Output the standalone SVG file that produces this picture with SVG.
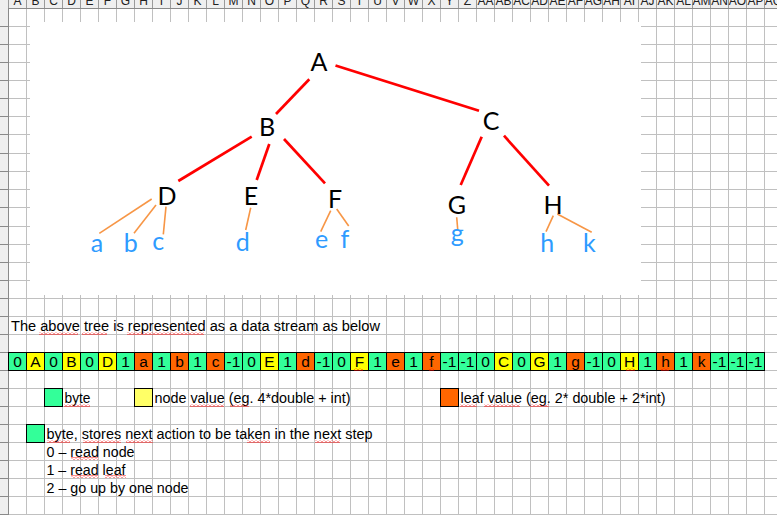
<svg xmlns="http://www.w3.org/2000/svg" width="777" height="515" viewBox="0 0 777 515">
<style>
.hdr{font-family:"Liberation Sans",Arial,sans-serif;font-size:12px;fill:#222;text-anchor:middle}
.cell{font-family:"Liberation Sans",Arial,sans-serif;font-size:15.5px;fill:#000;text-anchor:middle}
.txt{font-family:"Liberation Sans",Arial,sans-serif;font-size:14.7px;fill:#000}
.nd{font-family:Lato,"Open Sans",sans-serif;font-size:25px;fill:#000;text-anchor:middle}
.lf{font-family:Lato,"Open Sans",sans-serif;font-size:25px;fill:#2E9BFF;text-anchor:middle}
.red{stroke:#FF0000;stroke-width:2.7;fill:none}
.org{stroke:#F79646;stroke-width:1.6;fill:none}
.g{fill:#33FF99;stroke:#000;stroke-width:1}
.y{fill:#FFFF00;stroke:#000;stroke-width:1}
.o{fill:#FF6600;stroke:#000;stroke-width:1}
.hl{stroke:#C0C0C0;stroke-width:1;fill:none}
.wv{fill:url(#wave)}
</style>
<defs>
<pattern id="vgrid" x="26" y="0" width="18" height="18" patternUnits="userSpaceOnUse">
<rect x="0" y="0" width="1" height="18" fill="#C0C0C0"/>
</pattern>
<pattern id="wave" x="0" y="0" width="4" height="3" patternUnits="userSpaceOnUse">
<path d="M0 2.5L2 0.5L4 2.5" stroke="#FF0000" stroke-width="0.9" fill="none"/>
</pattern>
</defs>
<rect width="777" height="515" fill="#FFFFFF"/>
<!-- grid -->
<g id="grid">
<rect x="26" y="8" width="751" height="507" fill="url(#vgrid)"/>
<path class="hl" d="M8 26.5H777M8 44.5H777M8 62.5H777M8 80.5H777M8 98.5H777M8 116.5H777M8 134.5H777M8 153.5H777M8 171.5H777M8 189.5H777M8 207.5H777M8 226.5H777M8 244.5H777M8 262.5H777M8 280.5H777M8 298.5H777M8 316.5H777M8 334.5H777M8 352.5H777M8 370.5H777M8 388.5H777M8 406.5H777M8 424.5H777M8 442.5H777M8 460.5H777M8 478.5H777M8 496.5H777M8 514.5H777"/>
</g>
<!-- headers -->
<g id="colheader">
<rect x="0" y="0" width="777" height="8" fill="#EFEFEF"/>
<path d="M0 8.5H777" stroke="#8A8A8A" stroke-width="1"/>
<path d="M8.5 0V8M26.5 0V8M44.5 0V8M62.5 0V8M80.5 0V8M98.5 0V8M116.5 0V8M134.5 0V8M152.5 0V8M170.5 0V8M188.5 0V8M206.5 0V8M224.5 0V8M242.5 0V8M260.5 0V8M278.5 0V8M296.5 0V8M314.5 0V8M332.5 0V8M350.5 0V8M368.5 0V8M386.5 0V8M404.5 0V8M422.5 0V8M440.5 0V8M458.5 0V8M476.5 0V8M494.5 0V8M512.5 0V8M530.5 0V8M548.5 0V8M566.5 0V8M584.5 0V8M602.5 0V8M620.5 0V8M638.5 0V8M656.5 0V8M674.5 0V8M692.5 0V8M710.5 0V8M728.5 0V8M746.5 0V8M764.5 0V8" stroke="#9A9A9A" stroke-width="1"/>
<text class="hdr" y="4.6"><tspan x="17.5">A</tspan><tspan x="35.5">B</tspan><tspan x="53.5">C</tspan><tspan x="71.5">D</tspan><tspan x="89.5">E</tspan><tspan x="107.5">F</tspan><tspan x="125.5">G</tspan><tspan x="143.5">H</tspan><tspan x="161.5">I</tspan><tspan x="179.5">J</tspan><tspan x="197.5">K</tspan><tspan x="215.5">L</tspan><tspan x="233.5">M</tspan><tspan x="251.5">N</tspan><tspan x="269.5">O</tspan><tspan x="287.5">P</tspan><tspan x="305.5">Q</tspan><tspan x="323.5">R</tspan><tspan x="341.5">S</tspan><tspan x="359.5">T</tspan><tspan x="377.5">U</tspan><tspan x="395.5">V</tspan><tspan x="413.5">W</tspan><tspan x="431.5">X</tspan><tspan x="449.5">Y</tspan><tspan x="467.5">Z</tspan><tspan x="485.5">AA</tspan><tspan x="503.5">AB</tspan><tspan x="521.5">AC</tspan><tspan x="539.5">AD</tspan><tspan x="557.5">AE</tspan><tspan x="575.5">AF</tspan><tspan x="593.5">AG</tspan><tspan x="611.5">AH</tspan><tspan x="629.5">AI</tspan><tspan x="647.5">AJ</tspan><tspan x="665.5">AK</tspan><tspan x="683.5">AL</tspan><tspan x="701.5">AM</tspan><tspan x="719.5">AN</tspan><tspan x="737.5">AO</tspan><tspan x="755.5">AP</tspan><tspan x="773.5">AQ</tspan></text>
</g>
<g id="rowheader">
<rect x="0" y="8" width="8.5" height="507" fill="#EFEFEF"/>
<path d="M8.5 8V515" stroke="#8A8A8A" stroke-width="1"/>
<path d="M0 26.5H8M0 44.5H8M0 62.5H8M0 80.5H8M0 98.5H8M0 116.5H8M0 134.5H8M0 153.5H8M0 171.5H8M0 189.5H8M0 207.5H8M0 226.5H8M0 244.5H8M0 262.5H8M0 280.5H8M0 298.5H8M0 316.5H8M0 334.5H8M0 352.5H8M0 370.5H8M0 388.5H8M0 406.5H8M0 424.5H8M0 442.5H8M0 460.5H8M0 478.5H8M0 496.5H8M0 514.5H8" stroke="#8A8A8A" stroke-width="1"/>
</g>
<!-- tree picture -->
<rect id="picture" x="30" y="22" width="611" height="273" fill="#FFFFFF"/>
<g id="connectors">
<path class="red" d="M309.3 79.3L276 114"/>
<path class="red" d="M335.5 65.5L479 110.7"/>
<path class="red" d="M251.7 136.7L178.3 181"/>
<path class="red" d="M269.3 144L256.7 180"/>
<path class="red" d="M284 139L325 183.3"/>
<path class="red" d="M481.7 136.7L460.7 185"/>
<path class="red" d="M504 135.7L549 185.7"/>
<path class="org" d="M151.7 199L99.3 233.3"/>
<path class="org" d="M156 205L134 233.3"/>
<path class="org" d="M166 206.7L163.3 234.3"/>
<path class="org" d="M250.7 207.7L245.7 230"/>
<path class="org" d="M330.7 210.7L320.7 231.7"/>
<path class="org" d="M336.7 209L348.7 226"/>
<path class="org" d="M456.7 217.3L457.7 229.3"/>
<path class="org" d="M553.3 215.7L546 231.7"/>
<path class="org" d="M557.3 214L591.7 232.3"/>
</g>
<g id="node-A"><text class="nd" x="319" y="70.7">A</text></g>
<g id="node-B"><text class="nd" x="267" y="136">B</text></g>
<g id="node-C"><text class="nd" x="491" y="130">C</text></g>
<g id="node-D"><text class="nd" x="167" y="205">D</text></g>
<g id="node-E"><text class="nd" x="251" y="205">E</text></g>
<g id="node-F"><text class="nd" x="335" y="208.3">F</text></g>
<g id="node-G"><text class="nd" x="457" y="214">G</text></g>
<g id="node-H"><text class="nd" x="553" y="214">H</text></g>
<g id="leaf-a"><text class="lf" x="97" y="252.3">a</text></g>
<g id="leaf-b"><text class="lf" x="130.7" y="252">b</text></g>
<g id="leaf-c"><text class="lf" x="158.3" y="250">c</text></g>
<g id="leaf-d"><text class="lf" x="242.7" y="250.7">d</text></g>
<g id="leaf-e"><text class="lf" x="321.7" y="248">e</text></g>
<g id="leaf-f"><text class="lf" x="345" y="248">f</text></g>
<g id="leaf-g"><text class="lf" x="457.3" y="241.7">g</text></g>
<g id="leaf-h"><text class="lf" x="547.3" y="252.3">h</text></g>
<g id="leaf-k"><text class="lf" x="589.3" y="252.3">k</text></g>
<!-- sentence -->
<text class="txt" x="11" y="331" textLength="369" lengthAdjust="spacingAndGlyphs">The above tree is represented as a data stream as below</text>
<!-- data stream -->
<g id="stream">
<rect class="g" x="8.5" y="352.5" width="18" height="18"/>
<rect class="y" x="26.5" y="352.5" width="18" height="18"/>
<rect class="g" x="44.5" y="352.5" width="18" height="18"/>
<rect class="y" x="62.5" y="352.5" width="18" height="18"/>
<rect class="g" x="80.5" y="352.5" width="18" height="18"/>
<rect class="y" x="98.5" y="352.5" width="18" height="18"/>
<rect class="g" x="116.5" y="352.5" width="18" height="18"/>
<rect class="o" x="134.5" y="352.5" width="18" height="18"/>
<rect class="g" x="152.5" y="352.5" width="18" height="18"/>
<rect class="o" x="170.5" y="352.5" width="18" height="18"/>
<rect class="g" x="188.5" y="352.5" width="18" height="18"/>
<rect class="o" x="206.5" y="352.5" width="18" height="18"/>
<rect class="g" x="224.5" y="352.5" width="18" height="18"/>
<rect class="g" x="242.5" y="352.5" width="18" height="18"/>
<rect class="y" x="260.5" y="352.5" width="18" height="18"/>
<rect class="g" x="278.5" y="352.5" width="18" height="18"/>
<rect class="o" x="296.5" y="352.5" width="18" height="18"/>
<rect class="g" x="314.5" y="352.5" width="18" height="18"/>
<rect class="g" x="332.5" y="352.5" width="18" height="18"/>
<rect class="y" x="350.5" y="352.5" width="18" height="18"/>
<rect class="g" x="368.5" y="352.5" width="18" height="18"/>
<rect class="o" x="386.5" y="352.5" width="18" height="18"/>
<rect class="g" x="404.5" y="352.5" width="18" height="18"/>
<rect class="o" x="422.5" y="352.5" width="18" height="18"/>
<rect class="g" x="440.5" y="352.5" width="18" height="18"/>
<rect class="g" x="458.5" y="352.5" width="18" height="18"/>
<rect class="g" x="476.5" y="352.5" width="18" height="18"/>
<rect class="y" x="494.5" y="352.5" width="18" height="18"/>
<rect class="g" x="512.5" y="352.5" width="18" height="18"/>
<rect class="y" x="530.5" y="352.5" width="18" height="18"/>
<rect class="g" x="548.5" y="352.5" width="18" height="18"/>
<rect class="o" x="566.5" y="352.5" width="18" height="18"/>
<rect class="g" x="584.5" y="352.5" width="18" height="18"/>
<rect class="g" x="602.5" y="352.5" width="18" height="18"/>
<rect class="y" x="620.5" y="352.5" width="18" height="18"/>
<rect class="g" x="638.5" y="352.5" width="18" height="18"/>
<rect class="o" x="656.5" y="352.5" width="18" height="18"/>
<rect class="g" x="674.5" y="352.5" width="18" height="18"/>
<rect class="o" x="692.5" y="352.5" width="18" height="18"/>
<rect class="g" x="710.5" y="352.5" width="18" height="18"/>
<rect class="g" x="728.5" y="352.5" width="18" height="18"/>
<rect class="g" x="746.5" y="352.5" width="18" height="18"/>
<text class="cell" y="367.3"><tspan x="17.5">0</tspan><tspan x="35.5">A</tspan><tspan x="53.5">0</tspan><tspan x="71.5">B</tspan><tspan x="89.5">0</tspan><tspan x="107.5">D</tspan><tspan x="125.5">1</tspan><tspan x="143.5">a</tspan><tspan x="161.5">1</tspan><tspan x="179.5">b</tspan><tspan x="197.5">1</tspan><tspan x="215.5">c</tspan><tspan x="233.5">-1</tspan><tspan x="251.5">0</tspan><tspan x="269.5">E</tspan><tspan x="287.5">1</tspan><tspan x="305.5">d</tspan><tspan x="323.5">-1</tspan><tspan x="341.5">0</tspan><tspan x="359.5">F</tspan><tspan x="377.5">1</tspan><tspan x="395.5">e</tspan><tspan x="413.5">1</tspan><tspan x="431.5">f</tspan><tspan x="449.5">-1</tspan><tspan x="467.5">-1</tspan><tspan x="485.5">0</tspan><tspan x="503.5">C</tspan><tspan x="521.5">0</tspan><tspan x="539.5">G</tspan><tspan x="557.5">1</tspan><tspan x="575.5">g</tspan><tspan x="593.5">-1</tspan><tspan x="611.5">0</tspan><tspan x="629.5">H</tspan><tspan x="647.5">1</tspan><tspan x="665.5">h</tspan><tspan x="683.5">1</tspan><tspan x="701.5">k</tspan><tspan x="719.5">-1</tspan><tspan x="737.5">-1</tspan><tspan x="755.5">-1</tspan></text>
</g>
<!-- legend -->
<g id="legend">
<rect class="g" x="44.5" y="388.5" width="18" height="18"/>
<text class="txt" x="64.5" y="402.5" textLength="26" lengthAdjust="spacingAndGlyphs">byte</text>
<rect x="134.5" y="388.5" width="18" height="18" fill="#FFFF66" stroke="#000"/>
<text class="txt" x="154.5" y="402.5" textLength="196" lengthAdjust="spacingAndGlyphs">node value (eg. 4*double + int)</text>
<rect class="o" x="440.5" y="388.5" width="18" height="18"/>
<text class="txt" x="460.5" y="402.5" textLength="205" lengthAdjust="spacingAndGlyphs">leaf value (eg. 2* double + 2*int)</text>
<rect class="g" x="26.5" y="424.5" width="18" height="18"/>
<text class="txt" x="46.5" y="438.7" textLength="326" lengthAdjust="spacingAndGlyphs">byte, stores next action to be taken in the next step</text>
<text class="txt" x="46.5" y="456.7" textLength="88" lengthAdjust="spacingAndGlyphs">0 – read node</text>
<text class="txt" x="46.5" y="474.7" textLength="79" lengthAdjust="spacingAndGlyphs">1 – read leaf</text>
<text class="txt" x="46.5" y="492.7" textLength="142" lengthAdjust="spacingAndGlyphs">2 – go up by one node</text>
</g>
<!-- spellcheck waves -->
<g id="spellcheck">
<rect class="wv" x="39" y="332" width="39" height="3"/>
<rect class="wv" x="82" y="332" width="25" height="3"/>
<rect class="wv" x="127" y="332" width="77" height="3"/>
<rect class="wv" x="354" y="368" width="9" height="3"/>
<rect class="wv" x="429" y="368" width="5" height="3"/>
<rect class="wv" x="626" y="368" width="9" height="3"/>
<rect class="wv" x="661" y="368" width="8" height="3"/>
<rect class="wv" x="64" y="404" width="26" height="3"/>
<rect class="wv" x="190" y="404" width="34" height="3"/>
<rect class="wv" x="230" y="404" width="19" height="3"/>
<rect class="wv" x="460" y="404" width="17" height="3"/>
<rect class="wv" x="484" y="404" width="36" height="3"/>
<rect class="wv" x="530" y="404" width="19" height="3"/>
<rect class="wv" x="47" y="440" width="23" height="3"/>
<rect class="wv" x="83" y="440" width="38" height="3"/>
<rect class="wv" x="126" y="440" width="27" height="3"/>
<rect class="wv" x="247" y="440" width="23" height="3"/>
<rect class="wv" x="315" y="440" width="25" height="3"/>
<rect class="wv" x="71" y="457" width="27" height="3"/>
<rect class="wv" x="71" y="475" width="27" height="3"/>
<rect class="wv" x="105" y="475" width="21" height="3"/>
</g>
</svg>
